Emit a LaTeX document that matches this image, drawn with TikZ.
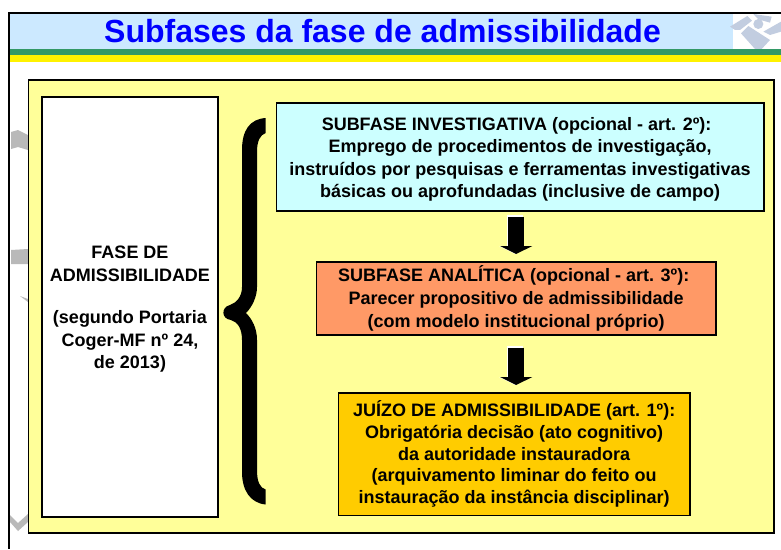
\documentclass[tikz,border=0pt]{standalone}
\usepackage{fontspec}
\setmainfont{Liberation Sans}
\usetikzlibrary{arrows.meta,calc}
\definecolor{bandblue}{HTML}{CCE9FF}
\definecolor{bandgreen}{HTML}{339966}
\definecolor{panelyellow}{HTML}{FFFF99}
\definecolor{cyanbox}{HTML}{CCFFFF}
\definecolor{orangebox}{HTML}{FF9966}
\definecolor{goldbox}{HTML}{FFCC00}
\definecolor{logoblue}{HTML}{C2CDE0}
\definecolor{titleblue}{HTML}{0000FF}
\tikzset{
  x=1pt,y=-1pt,
  bandfill/.style={fill=#1,draw=none},
  textbox/.style={draw=black,line width=1.6pt,fill=#1,align=center,inner sep=0pt,
    font=\fontsize{18}{22.6}\selectfont\bfseries,text=black},
  blockarrow/.style={line width=16pt,draw=black,-{Triangle[width=32pt,length=8pt]}},
  blockarrowlight/.style={line width=16pt,draw=white,-{Triangle[width=32pt,length=8pt]}},
  logopart/.style={fill=logoblue,draw=none},
  ghost/.style={fill=gray!55,draw=none}
}
\begin{document}
\begin{tikzpicture}
\useasboundingbox (0,0) rectangle (781,549);
\fill[white] (0,0) rectangle (781,549);
% header bands
\fill[bandfill=bandblue] (9,13) rectangle (733,49);
\fill[bandfill=bandgreen] (9,49) rectangle (781,55);
\fill[bandfill=yellow] (9,55) rectangle (781,62);
% logo
\begin{scope}[shift={(680,0)},x=0.3333pt,y=-0.3333pt]
\fill[logopart] (220,42) -- (275,50) -- (270,68) -- (235,58) -- cycle;
\fill[logopart] (150,80) -- (202,48) -- (216,62) -- (180,90) -- (165,90) -- cycle;
\fill[logopart] (250,95) -- (303,65) -- (303,95) -- (270,105) -- cycle;
\fill[logopart] (183,100) -- (205,78) -- (270,120) -- (245,147) -- (225,147) -- cycle;
\fill[logopart] (235,72) circle (15);
\end{scope}
% page frame
\draw[black,line width=2.2pt] (781,13) -- (9,13) -- (9,549);
% faint shapes behind the panel edge
\fill[ghost] (11,132) -- (18,130) -- (28,135) -- (28,150) -- (18,147) -- (11,149) -- cycle;
\fill[ghost] (11,250) -- (28,249) -- (28,264) -- (11,264) -- cycle;
\fill[ghost] (20,296) -- (28,299) -- (28,302) -- cycle;
\fill[ghost] (10,515) -- (18,523) -- (28,514) -- (28,522) -- (18,531) -- (10,522) -- cycle;
% panel
\node[draw=black,line width=1.6pt,fill=panelyellow,minimum width=745.5pt,minimum height=453pt,inner sep=0pt,anchor=north west] (panel) at (27.6,79.3) {};
% left box
\node[textbox=white,minimum width=176pt,minimum height=420pt,anchor=north west] (fase) at (41.2,96) {\rule{0pt}{18pt}FASE DE\\ADMISSIBILIDADE\\[19.5pt](segundo Portaria\\Coger-MF nº 24,\\de 2013)};
% right boxes
\node[textbox=cyanbox,minimum width=487.5pt,minimum height=108pt,anchor=north west] (inv) at (275.5,102.3) {\rule{0pt}{17.5pt}SUBFASE INVESTIGATIVA (opcional - art. 2º):\hspace*{7pt}\\Emprego de procedimentos de investigação,\\instruídos por pesquisas e ferramentas investigativas\\básicas ou aprofundadas (inclusive de campo)};
\node[textbox=orangebox,minimum width=399.5pt,minimum height=73pt,anchor=north west] (ana) at (315.6,261) {SUBFASE ANALÍTICA (opcional - art. 3º):\hspace*{5pt}\\Parecer propositivo de admissibilidade\\(com modelo institucional próprio)};
\node[textbox=goldbox,minimum width=351.5pt,minimum height=122.5pt,anchor=north west,font=\fontsize{18}{21.8}\selectfont\bfseries] (juizo) at (337.6,392) {JUÍZO DE ADMISSIBILIDADE (art. 1º):\\Obrigatória decisão (ato cognitivo)\\da autoridade instauradora\\(arquivamento liminar do feito ou\\instauração da instância disciplinar)};
% title
\node[text=titleblue,font=\fontsize{32}{34}\selectfont\bfseries,inner sep=0pt] (title) at (382.5,31) {Subfases da fase de admissibilidade};
% block arrows
\draw[blockarrowlight,shorten <=4pt,shorten >=6pt] ([shift={(-1,-1)}]ana.north |- inv.south) -- ([shift={(-1,-1)}]ana.north);
\draw[blockarrow,shorten <=5pt,shorten >=7pt] (ana.north |- inv.south) -- (ana.north);
\draw[blockarrowlight,shorten <=11pt,shorten >=6pt] ([shift={(-1,-1)}]ana.south) -- ([shift={(-1,-1)}]ana.south |- juizo.north);
\draw[blockarrow,shorten <=12pt,shorten >=7pt] (ana.south) -- (ana.south |- juizo.north);
% brace
\fill[black] (265.7,118) .. controls (250,119) and (242,130) .. (242,150)
  -- (242,287) .. controls (242,297) and (236,303) .. (230,305)
  .. controls (221,307) and (221,319) .. (231,320)
  .. controls (238,322) and (242,329) .. (242,340)
  -- (242,472) .. controls (242,490) and (250,503) .. (265.7,504.5)
  -- (265.7,489.5) .. controls (260,488) and (257,482) .. (257,470)
  -- (257,340) .. controls (257,328) and (252,319) .. (246,313)
  .. controls (252,307) and (257,297) .. (257,287)
  -- (257,152) .. controls (257,141) and (260,135) .. (265.7,133) -- cycle;
\end{tikzpicture}
\end{document}
